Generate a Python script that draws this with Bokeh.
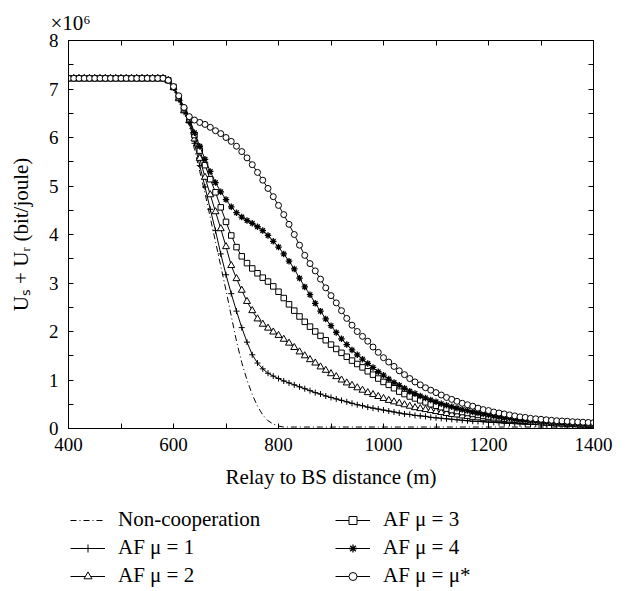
from bokeh.plotting import figure
from bokeh.layouts import column
from bokeh.models import LinearAxis, FixedTicker, Legend, LegendItem, Range1d, Title
from bokeh.embed import file_html
from bokeh.resources import INLINE

FONT = "Liberation Serif"

# Relay to BS distance (m), sampled every 10 m
distance_m = list(range(400, 1401, 10))

# U_s + U_r in units of 10^6 bit/joule
non_coop = [7.22, 7.22, 7.22, 7.22, 7.22, 7.22, 7.22, 7.22, 7.22, 7.22,
            7.22, 7.22, 7.22, 7.22, 7.22, 7.22, 7.22, 7.22, 7.22,
            7.15, 6.98, 6.74, 6.5, 6.25, 5.75, 5.3, 4.85, 4.35, 3.85,
            3.35, 2.85, 2.32, 1.8, 1.36, 1.0, 0.7, 0.46, 0.28, 0.16,
            0.09, 0.05, 0.03, 0.03, 0.03, 0.03, 0.03, 0.03, 0.03, 0.03,
            0.03, 0.03, 0.03, 0.03, 0.03, 0.03, 0.03, 0.03, 0.03, 0.03,
            0.03, 0.03, 0.03, 0.03, 0.03, 0.03, 0.03, 0.03, 0.03, 0.03,
            0.03, 0.03, 0.03, 0.03, 0.03, 0.03, 0.03, 0.03, 0.03, 0.03,
            0.03, 0.03, 0.03, 0.03, 0.03, 0.03, 0.03, 0.03, 0.03, 0.03,
            0.03, 0.03, 0.03, 0.03, 0.03, 0.03, 0.03, 0.03, 0.03, 0.03,
            0.03, 0.03]

af_mu1 = [7.22, 7.22, 7.22, 7.22, 7.22, 7.22, 7.22, 7.22, 7.22, 7.22,
          7.22, 7.22, 7.22, 7.22, 7.22, 7.22, 7.22, 7.22, 7.22,
          7.17, 7.02, 6.78, 6.52, 6.3, 5.88, 5.42, 4.98, 4.52, 4.08,
          3.6, 3.17, 2.78, 2.42, 2.08, 1.78, 1.52, 1.35, 1.23, 1.14,
          1.08, 1.03, 0.98, 0.94, 0.9, 0.86, 0.82, 0.78, 0.74, 0.71,
          0.67, 0.64, 0.61, 0.58, 0.55, 0.52, 0.49, 0.47, 0.44, 0.42,
          0.4, 0.38, 0.36, 0.34, 0.32, 0.3, 0.29, 0.27, 0.26, 0.25,
          0.23, 0.22, 0.21, 0.2, 0.19, 0.18, 0.17, 0.16, 0.15, 0.145,
          0.14, 0.13, 0.125, 0.12, 0.11, 0.105, 0.1, 0.095, 0.09, 0.088,
          0.085, 0.08, 0.077, 0.074, 0.07, 0.067, 0.064, 0.06, 0.058, 0.055,
          0.053, 0.05]

af_mu2 = [7.22, 7.22, 7.22, 7.22, 7.22, 7.22, 7.22, 7.22, 7.22, 7.22,
          7.22, 7.22, 7.22, 7.22, 7.22, 7.22, 7.22, 7.22, 7.22,
          7.18, 7.03, 6.8, 6.55, 6.35, 5.97, 5.57, 5.18, 4.82, 4.47,
          4.12, 3.75, 3.36, 3.09, 2.85, 2.62, 2.43, 2.26, 2.15, 2.07,
          1.99, 1.92, 1.84, 1.76, 1.67, 1.58, 1.5, 1.42, 1.35, 1.27,
          1.2, 1.13, 1.07, 1.0, 0.94, 0.89, 0.84, 0.79, 0.74, 0.7,
          0.66, 0.62, 0.58, 0.55, 0.52, 0.49, 0.46, 0.43, 0.41, 0.39,
          0.37, 0.35, 0.33, 0.31, 0.29, 0.28, 0.26, 0.25, 0.23, 0.22,
          0.21, 0.2, 0.19, 0.18, 0.17, 0.16, 0.15, 0.145, 0.14, 0.13,
          0.125, 0.12, 0.11, 0.105, 0.1, 0.095, 0.09, 0.085, 0.08, 0.078,
          0.074, 0.07]

af_mu3 = [7.22, 7.22, 7.22, 7.22, 7.22, 7.22, 7.22, 7.22, 7.22, 7.22,
          7.22, 7.22, 7.22, 7.22, 7.22, 7.22, 7.22, 7.22, 7.22,
          7.18, 7.04, 6.83, 6.58, 6.38, 6.05, 5.73, 5.43, 5.14, 4.87,
          4.56, 4.26, 3.98, 3.74, 3.55, 3.41, 3.3, 3.2, 3.11, 3.03,
          2.93, 2.82, 2.69, 2.56, 2.43, 2.31, 2.2, 2.1, 2.0, 1.91,
          1.82, 1.73, 1.64, 1.56, 1.48, 1.4, 1.33, 1.26, 1.18, 1.11,
          1.03, 0.96, 0.9, 0.83, 0.76, 0.71, 0.66, 0.62, 0.58, 0.54,
          0.5, 0.47, 0.44, 0.41, 0.38, 0.36, 0.34, 0.32, 0.3, 0.28,
          0.26, 0.245, 0.23, 0.215, 0.2, 0.19, 0.18, 0.17, 0.16, 0.15,
          0.14, 0.13, 0.125, 0.12, 0.11, 0.105, 0.1, 0.095, 0.09, 0.085,
          0.08, 0.075]

af_mu4 = [7.22, 7.22, 7.22, 7.22, 7.22, 7.22, 7.22, 7.22, 7.22, 7.22,
          7.22, 7.22, 7.22, 7.22, 7.22, 7.22, 7.22, 7.22, 7.22,
          7.18, 7.05, 6.85, 6.6, 6.4, 6.1, 5.82, 5.55, 5.3, 5.07,
          4.88, 4.72, 4.57, 4.45, 4.36, 4.29, 4.23, 4.16, 4.08, 3.98,
          3.86, 3.74, 3.6, 3.45, 3.29, 3.1, 2.92, 2.76, 2.58, 2.42,
          2.26, 2.12, 1.98, 1.85, 1.73, 1.62, 1.52, 1.43, 1.34, 1.26,
          1.17, 1.1, 1.02, 0.95, 0.89, 0.83, 0.77, 0.72, 0.67, 0.63,
          0.59, 0.55, 0.51, 0.48, 0.45, 0.42, 0.39, 0.37, 0.34, 0.32,
          0.3, 0.28, 0.26, 0.24, 0.22, 0.21, 0.19, 0.18, 0.17, 0.16,
          0.15, 0.14, 0.13, 0.12, 0.115, 0.11, 0.1, 0.095, 0.09, 0.085,
          0.08, 0.078]

af_mu_star = [7.22, 7.22, 7.22, 7.22, 7.22, 7.22, 7.22, 7.22, 7.22, 7.22,
              7.22, 7.22, 7.22, 7.22, 7.22, 7.22, 7.22, 7.22, 7.22,
              7.18, 7.05, 6.86, 6.62, 6.43, 6.36, 6.31, 6.27, 6.21, 6.14,
              6.08, 6.0, 5.92, 5.82, 5.71, 5.58, 5.44, 5.28, 5.12, 4.95,
              4.78, 4.6, 4.41, 4.21, 4.0, 3.78, 3.57, 3.4, 3.25, 3.08,
              2.9, 2.74, 2.59, 2.43, 2.27, 2.13, 2.0, 1.9, 1.8, 1.68,
              1.57, 1.46, 1.37, 1.28, 1.19, 1.11, 1.03, 0.96, 0.9, 0.84,
              0.79, 0.74, 0.69, 0.64, 0.6, 0.56, 0.52, 0.49, 0.46, 0.42,
              0.39, 0.37, 0.34, 0.32, 0.3, 0.28, 0.26, 0.24, 0.23, 0.21,
              0.2, 0.19, 0.18, 0.17, 0.16, 0.155, 0.15, 0.14, 0.135, 0.13,
              0.125, 0.12]

series_labels = ["Non-cooperation", "AF \u03bc = 1", "AF \u03bc = 2",
                 "AF \u03bc = 3", "AF \u03bc = 4", "AF \u03bc = \u03bc*"]

x_ticks = [400, 600, 800, 1000, 1200, 1400]
x_minor = [500, 700, 900, 1100, 1300]
y_ticks = [0, 1, 2, 3, 4, 5, 6, 7, 8]
y_minor = [0.5, 1.5, 2.5, 3.5, 4.5, 5.5, 6.5, 7.5]

W = 628
H_MAIN = 500
H_LEG = 91

p = figure(width=W, height=H_MAIN, output_backend="svg", toolbar_location=None,
           x_range=Range1d(400, 1400), y_range=Range1d(0, 8), title=None,
           min_border_left=68, min_border_right=W - 593, min_border_top=40,
           min_border_bottom=H_MAIN - 428)
p.xgrid.visible = False
p.ygrid.visible = False
p.outline_line_color = "black"
p.background_fill_color = "white"
p.border_fill_color = "white"


def style_axis(ax, ticks, minor, labels=True):
    ax.ticker = FixedTicker(ticks=ticks, minor_ticks=minor)
    ax.axis_line_color = "black"
    ax.axis_line_width = 1
    ax.major_tick_in = 5
    ax.major_tick_out = 0
    ax.minor_tick_in = 5
    ax.minor_tick_out = 0
    ax.major_tick_line_color = "black"
    ax.minor_tick_line_color = "black"
    ax.major_label_text_font = FONT
    ax.major_label_text_color = "black"
    ax.major_label_text_font_size = "19px"
    if not labels:
        ax.major_label_overrides = {t: "" for t in ticks}
        ax.major_label_standoff = 0


xb = p.xaxis[0]
style_axis(xb, x_ticks, x_minor)
xb.major_label_standoff = 9
xb.axis_label = "Relay to BS distance (m)"
xb.axis_label_text_font = FONT
xb.axis_label_text_font_size = "21px"
xb.axis_label_text_font_style = "normal"
xb.axis_label_text_color = "black"
xb.axis_label_standoff = 11

yl = p.yaxis[0]
style_axis(yl, y_ticks, y_minor)
yl.major_label_standoff = 10
yl.axis_label = "U\u209b + U\u1d63 (bit/joule)"
yl.axis_label_text_font = FONT
yl.axis_label_text_font_size = "21px"
yl.axis_label_text_font_style = "normal"
yl.axis_label_text_color = "black"
yl.axis_label_standoff = 13

xt = LinearAxis()
style_axis(xt, x_ticks, x_minor, labels=False)
p.add_layout(xt, "above")
yr = LinearAxis()
style_axis(yr, y_ticks, y_minor, labels=False)
p.add_layout(yr, "right")

# x10^6 multiplier above the y axis
p.add_layout(Title(text="\u00d710\u2076", align="left", offset=-18,
                   text_font=FONT, text_font_size="21px",
                   text_font_style="normal", text_color="black", standoff=11),
             "above")

# styles: (values, marker, size, fill, marker line width)
ser = [
    (af_mu1, "cross", 6, "black", 1.0),
    (af_mu2, "triangle", 7, "white", 1.0),
    (af_mu3, "square", 5.5, "white", 1.0),
    (af_mu4, "asterisk", 6.5, "black", 1.3),
    (af_mu_star, "circle", 6, "white", 1.0),
]

p.line(distance_m, non_coop, line_color="black", line_width=1,
       line_dash="6 3 1 3")
for vals, mk, sz, fill, lw in ser:
    p.line(distance_m, vals, line_color="black", line_width=1)
    p.scatter(distance_m, vals, marker=mk, size=sz, line_color="black",
              fill_color=fill, line_width=lw)

# legend strip below the plot (its glyphs reuse the series data, drawn
# outside this strip's visible range so only the legend samples show)
q = figure(width=W, height=H_LEG, output_backend="svg", toolbar_location=None,
           x_range=Range1d(0, 1), y_range=Range1d(0, 1), title=None,
           min_border=0, x_axis_location=None, y_axis_location=None)
q.xgrid.visible = False
q.ygrid.visible = False
q.outline_line_color = None
q.background_fill_color = "white"
q.border_fill_color = "white"

items = [LegendItem(label=series_labels[0], renderers=[
    q.line(distance_m, non_coop, line_color="black", line_width=1,
           line_dash="6 3 1 3")])]
for i, (vals, mk, sz, fill, lw) in enumerate(ser):
    rl = q.line(distance_m, vals, line_color="black", line_width=1)
    rs = q.scatter(distance_m, vals, marker=mk, size=sz, line_color="black",
                   fill_color=fill, line_width=lw)
    items.append(LegendItem(label=series_labels[i + 1], renderers=[rl, rs]))

for its, loc in ((items[:3], (2, 3)), (items[3:], (267, 3))):
    lg = Legend(items=its, location=loc)
    lg.label_text_font = FONT
    lg.label_text_font_size = "21px"
    lg.label_text_color = "black"
    lg.glyph_width = 35
    lg.glyph_height = 20
    lg.label_height = 20
    lg.spacing = 3
    lg.label_standoff = 13
    lg.padding = 0
    lg.margin = 0
    lg.border_line_color = None
    lg.background_fill_alpha = 0
    q.add_layout(lg)

layout = column(p, q, spacing=0)
open("out.html", "w").write(file_html(layout, INLINE))
